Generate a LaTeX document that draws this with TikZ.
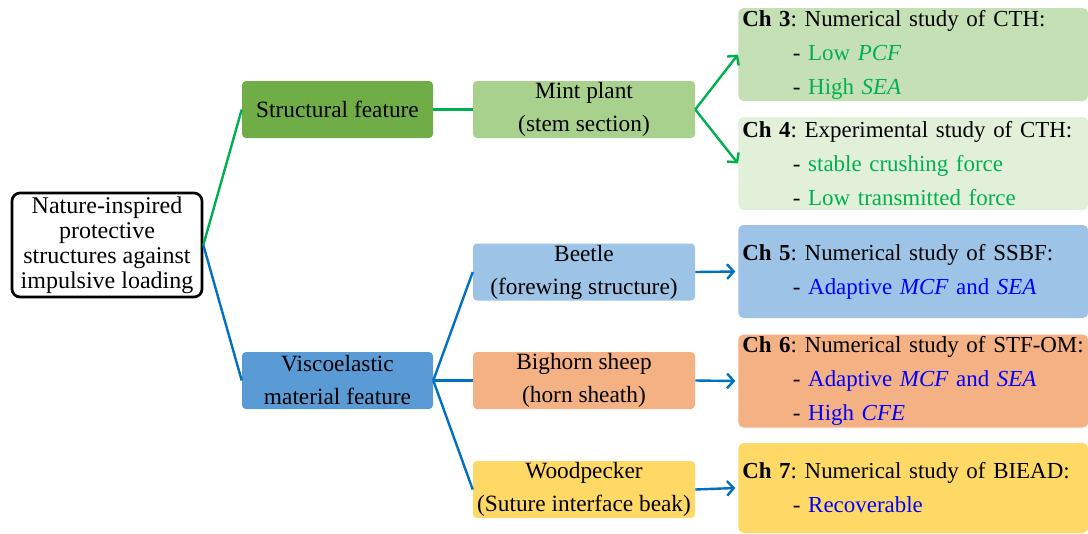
\documentclass[tikz,border=0pt]{standalone}
\usepackage{fontspec}
\setmainfont{Liberation Serif}
\usetikzlibrary{arrows.meta}
\frenchspacing

\definecolor{linegreen}{HTML}{00B050}
\definecolor{lineblue}{HTML}{0070C0}
\definecolor{darkgreen}{HTML}{70AD47}
\definecolor{midgreen}{HTML}{A9D18E}
\definecolor{palegreen}{HTML}{C5E0B4}
\definecolor{palergreen}{HTML}{E2F0D9}
\definecolor{darkblue}{HTML}{5B9BD5}
\definecolor{skyblue}{HTML}{9DC3E6}
\definecolor{salmon}{HTML}{F4B183}
\definecolor{gold}{HTML}{FFD966}
\definecolor{txtblue}{HTML}{0000FF}

\newcommand{\gtxt}[1]{\textcolor{linegreen}{#1}}
\newcommand{\btxt}[1]{\textcolor{txtblue}{#1}}
\newcommand{\ind}{\hspace*{38pt}- }
\newcommand{\chead}[2]{\mbox{\textbf{Ch #1}: #2}}

\tikzset{
  rootbox/.style={draw, line width=2pt, rounded corners=6pt, minimum width=142.5pt,
    minimum height=78pt, inner sep=0pt, align=center,
    font=\fontsize{18}{18.75}\selectfont},
  featbox/.style={rounded corners=3pt, minimum width=143.25pt, minimum height=42.75pt,
    inner sep=0pt, align=center, font=\fontsize{17.5}{24.75}\selectfont},
  leafbox/.style={featbox, minimum width=166.5pt},
  chbox/.style={rounded corners=4pt, minimum width=262.5pt, minimum height=69.75pt,
    inner xsep=3pt, inner ysep=0pt, text width=256.5pt, align=left, anchor=west,
    font=\fontsize{17.2}{25.5}\selectfont},
  gline/.style={linegreen, line width=1.8pt},
  bline/.style={lineblue, line width=1.8pt},
  tip/.style={-{Straight Barb[length=5pt,width=11pt]}}
}

\begin{document}
\begin{tikzpicture}[x=0.75pt, y=-0.75pt]
  \useasboundingbox (0,0) rectangle (1088,533);

  % root
  \node[rootbox] (root) at (107,245) {Nature-inspired\\protective\\structures against\\impulsive loading};

  % features
  \node[featbox, fill=darkgreen] (struct) at (337.5,109.5) {Structural feature};
  \node[featbox, fill=darkblue] (visco) at (337.5,380.5) {Viscoelastic\\material feature};

  % inspirations
  \node[leafbox, fill=midgreen] (mint) at (584,109.5) {Mint plant\\(stem section)};
  \node[leafbox, fill=skyblue] (beetle) at (584,272) {Beetle\\(forewing structure)};
  \node[leafbox, fill=salmon] (sheep) at (584,380.5) {Bighorn sheep\\(horn sheath)};
  \node[leafbox, fill=gold] (wood) at (584,489.5) {Woodpecker\\(Suture interface beak)};

  % chapters
  \node[chbox, fill=palegreen] (ch3) at (738,54.5) {\chead{3}{Numerical study of CTH:}\\
    \ind\gtxt{Low \textit{PCF}}\\ \ind\gtxt{High \textit{SEA}}};
  \node[chbox, fill=palergreen] (ch4) at (738,163.5) {\chead{4}{Experimental study of CTH:}\\
    \ind\gtxt{stable crushing force}\\ \ind\gtxt{Low transmitted force}};
  \node[chbox, fill=skyblue] (ch5) at (738,271.5) {\chead{5}{Numerical study of SSBF:}\\
    \ind\btxt{Adaptive \textit{MCF} and \textit{SEA}}};
  \node[chbox, fill=salmon] (ch6) at (738,381) {\chead{6}{Numerical study of STF-OM:}\\
    \ind\btxt{Adaptive \textit{MCF} and \textit{SEA}}\\ \ind\btxt{High \textit{CFE}}};
  \node[chbox, fill=gold, minimum height=67.5pt] (ch7) at (738,488) {\chead{7}{Numerical study of BIEAD:}\\
    \ind\btxt{Recoverable}};

  % connectors
  \draw[gline] (root.east) -- (struct.west);
  \draw[bline] (root.east) -- (visco.west);
  \draw[gline] (struct.east) -- (mint.west);
  \draw[gline, tip] (mint.east) -- (ch3.west);
  \draw[gline, tip] (mint.east) -- (ch4.west);
  \foreach \leaf/\ch in {beetle/ch5, sheep/ch6, wood/ch7} {
    \draw[bline] (visco.east) -- (\leaf.west);
    \draw[bline, tip] (\leaf.east) -- ([xshift=-2pt]\ch.west);
  }
\end{tikzpicture}
\end{document}
